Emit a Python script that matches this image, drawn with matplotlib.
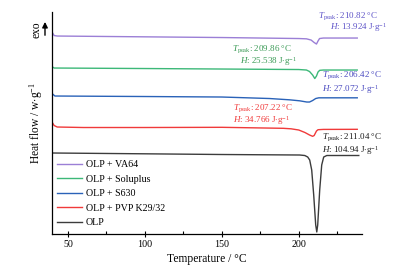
import numpy as np
import matplotlib
matplotlib.use("Agg")
import matplotlib.pyplot as plt
from matplotlib.ticker import MultipleLocator, NullLocator

plt.rcParams['font.family'] = ['Liberation Serif', 'DejaVu Serif']
plt.rcParams['mathtext.fontset'] = 'custom'
plt.rcParams['mathtext.rm'] = 'Liberation Serif'
plt.rcParams['mathtext.it'] = 'Liberation Serif:italic'

# DSC curves (heat flow in arbitrary stacked units)
t_va64 = [40, 41, 43, 100, 150, 200, 205, 208, 210, 211.5, 212.5, 213.5, 216, 238]
hf_va64 = [201, 198.5, 198, 197.2, 196.5, 195.5, 195.2, 194, 191.5, 190, 193, 195.5, 196, 196]

t_solu = [40, 41, 100, 150, 200, 205, 207, 209, 210.4, 211.5, 212.5, 213.6, 216, 238]
hf_solu = [167, 166, 165.5, 165, 164.5, 164, 162.5, 159, 155.5, 158, 162, 163.7, 164, 164]

t_s630 = [40, 41.5, 100, 150, 181, 194, 200.6, 205.2, 207, 209, 211, 213, 238]
hf_s630 = [140, 138, 137.5, 137, 135.5, 134.2, 133.2, 132, 132, 133.5, 135.5, 136.2, 136.2]

t_pvp = [40, 41, 43, 60, 100, 150, 190, 195, 200, 204, 207, 209, 210, 211.5, 212.5, 216, 238]
hf_pvp = [111, 108.5, 107, 106.5, 106.5, 106.7, 105.7, 105.2, 104, 101.5, 99, 97.7, 98.5, 103, 104.3, 104.6, 104.7]

t_olp = [40, 100, 150, 200.6, 203.9, 205.8, 207.1, 208.4, 209.7, 211.0, 211.7,
         212.3, 213.6, 214.9, 216.2, 218.2, 239]
hf_olp = [81, 80.2, 79.5, 79, 78.5, 77, 74, 64, 39, 9, 2,
          9, 44, 69, 77, 78.5, 78.5]

labels = ['OLP + VA64', 'OLP + Soluplus', 'OLP + S630', 'OLP + PVP K29/32', 'OLP']
colors = ['#9b7fd6', '#3cb878', '#2a62b8', '#f03a3a', '#3c3c3c']
text_colors = ['#5e54c8', '#3a9a55', '#4a4ac0', '#f03a3a', '#1e1e1e']

t_peak = ['210.82', '209.86', '206.42', '207.22', '211.04']
enthalpy = ['13.924', '25.538', '27.072', '34.766', '104.94']
# annotation anchors (temperature, heat flow) for the two text lines
tp_pos = [(212.3, 218), (156.5, 185), (214.9, 159), (157.1, 126), (215, 96.5)]
h_pos = [(220, 207), (161.7, 173), (215, 145), (157.1, 114), (215, 84)]

fig = plt.figure(figsize=(4.04, 2.73), dpi=100)
ax = fig.add_axes([0.1287, 0.1429, 0.767, 0.813])

series = [(t_va64, hf_va64), (t_solu, hf_solu), (t_s630, hf_s630),
          (t_pvp, hf_pvp), (t_olp, hf_olp)]
for (t, hf), lab, c in zip(series, labels, colors):
    ax.plot(t, hf, color=c, lw=1.0, label=lab)

for i in range(5):
    ax.text(tp_pos[i][0], tp_pos[i][1],
            r'$T_{\mathrm{peak}}$: ' + t_peak[i] + ' \u00b0C',
            color=text_colors[i], fontsize=6.5, ha='left', va='center')
    ax.text(h_pos[i][0], h_pos[i][1],
            r'$H$: ' + enthalpy[i] + r' J$\cdot$g$^{-1}$',
            color=text_colors[i], fontsize=6.5, ha='left', va='center')

ax.set_xlim(39.6, 241)
ax.set_ylim(0, 222)
ax.spines['top'].set_visible(False)
ax.spines['right'].set_visible(False)
ax.spines['left'].set_linewidth(0.9)
ax.spines['bottom'].set_linewidth(0.9)
ax.yaxis.set_major_locator(NullLocator())
ax.xaxis.set_major_locator(MultipleLocator(50))
ax.xaxis.set_minor_locator(MultipleLocator(25))
ax.tick_params(axis='x', which='major', direction='inout', length=5, width=0.8,
               labelsize=7.2, pad=2)
ax.tick_params(axis='x', which='minor', direction='in', length=2.5, width=0.8)

ax.set_xlabel('Temperature / \u00b0C', fontsize=8.3, labelpad=3)
ax.set_ylabel(r'Heat flow / w$\cdot$g$^{-1}$', fontsize=8.3)
ax.yaxis.set_label_coords(-0.023, 0.5)

ax.text(-0.032, 0.919, 'exo', transform=ax.transAxes, rotation=90,
        ha='center', va='bottom', rotation_mode='anchor', fontsize=8.3)
ax.annotate('', xy=(-0.0226, 0.968), xytext=(-0.0226, 0.883),
            xycoords='axes fraction', textcoords='axes fraction',
            arrowprops=dict(arrowstyle='-|>', color='black', lw=1.0,
                            mutation_scale=8), annotation_clip=False)

ax.legend(loc='upper left', bbox_to_anchor=(0.016, 0.332), frameon=False,
          fontsize=7.2, handlelength=2.5, handletextpad=0.4,
          labelspacing=0.55, borderpad=0, borderaxespad=0)

fig.savefig('out.png', dpi=100)
